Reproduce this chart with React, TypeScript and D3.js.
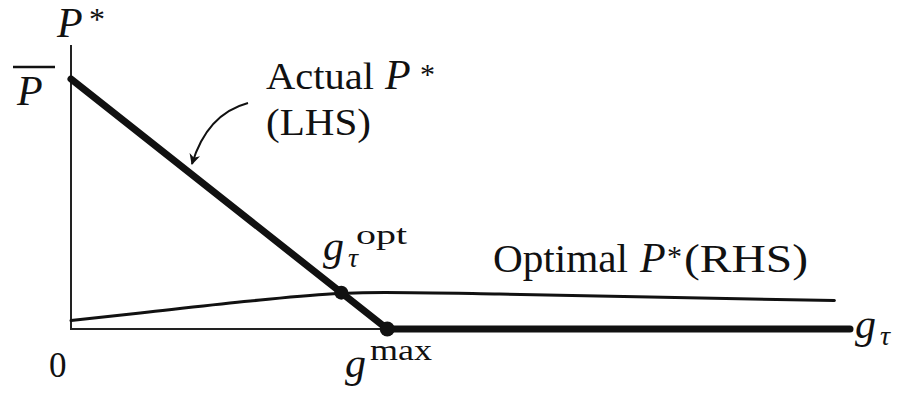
import React from 'react';
import * as d3 from 'd3';

// schematic: actual P* (LHS) falls linearly to zero at g^max, optimal P* (RHS) stays low
const pBar = 1;
const gMax = 40.6;
const gEnd = 100;

const actualG = [0, gMax, gEnd];
const actualP = [pBar, 0, 0];

const optimalG = [0, 10, 23, 34.5, 40.3, 55, 74.3, 98];
const optimalP = [0.034, 0.068, 0.112, 0.142, 0.146, 0.14, 0.128, 0.114];

const gOpt = 34.7;

const W = 905;
const H = 396;
const FONT = 'Liberation Serif';

const App = () => {
  const x = d3.scaleLinear().domain([0, 100]).range([71, 850]);
  const y = d3.scaleLinear().domain([0, 1]).range([329, 79]);

  const line = d3.line<[number, number]>()
    .x(d => x(d[0]))
    .y(d => y(d[1]));
  const smooth = d3.line<[number, number]>()
    .x(d => x(d[0]))
    .y(d => y(d[1]))
    .curve(d3.curveMonotoneX);

  const actual = actualG.map((g, i) => [g, actualP[i]] as [number, number]);
  const optimal = optimalG.map((g, i) => [g, optimalP[i]] as [number, number]);
  const pOpt = pBar * (1 - gOpt / gMax);

  return (
    <svg width={W} height={H} style={{ position: 'absolute', left: 0, top: 0 }}>
      <defs>
        <marker id="ah" viewBox="0 0 10 10" refX="9" refY="5" markerWidth="11" markerHeight="11" orient="auto" markerUnits="userSpaceOnUse">
          <path d="M0,0 L10,5 L0,10 L3,5 Z" fill="#111" />
        </marker>
      </defs>
      <rect width={W} height={H} fill="#fff" />
      {/* axes */}
      <path d={`M${x(0)},${y(1.136)} V${y(0)} H${x(gEnd)}`} fill="none" stroke="#222" strokeWidth={2} />
      {/* optimal curve */}
      <path d={smooth(optimal) ?? ''} fill="none" stroke="#111" strokeWidth={3} strokeLinecap="round" />
      {/* actual curve */}
      <path d={line(actual) ?? ''} fill="none" stroke="#111" strokeWidth={7} strokeLinecap="round" strokeLinejoin="round" />
      <circle cx={x(gOpt)} cy={y(pOpt)} r={7} fill="#111" />
      <circle cx={x(gMax)} cy={y(0)} r={7.5} fill="#111" />
      {/* arrow */}
      <path d="M248,103 Q207,114 192,164" fill="none" stroke="#111" strokeWidth={2} markerEnd="url(#ah)" />

      <g fontFamily={FONT} fill="#111">
        <text x={57} y={37} fontSize={42} fontStyle="italic">P</text>
        <text x={89} y={30} fontSize={32}>*</text>

        <line x1={13} x2={55} y1={67} y2={67} stroke="#111" strokeWidth={2.5} />
        <text x={17} y={105} fontSize={42} fontStyle="italic">P</text>

        <text x={266} y={89} fontSize={38} textLength={108} lengthAdjust="spacingAndGlyphs">Actual</text>
        <text x={385} y={89} fontSize={42} fontStyle="italic">P</text>
        <text x={420} y={84} fontSize={30}>*</text>
        <text x={266} y={135} fontSize={38} textLength={105} lengthAdjust="spacingAndGlyphs">(LHS)</text>

        <text x={323} y={260} fontSize={42} fontStyle="italic">g</text>
        <text x={348} y={267} fontSize={28} fontStyle="italic">τ</text>
        <text x={356} y={244} fontSize={28} textLength={51} lengthAdjust="spacingAndGlyphs">opt</text>

        <text x={493} y={272} fontSize={40} textLength={135} lengthAdjust="spacingAndGlyphs">Optimal</text>
        <text x={640} y={272} fontSize={42} fontStyle="italic">P</text>
        <text x={667} y={266} fontSize={30}>*</text>
        <text x={684} y={272} fontSize={40} textLength={124} lengthAdjust="spacingAndGlyphs">(RHS)</text>

        <text x={855} y={338} fontSize={42} fontStyle="italic">g</text>
        <text x={880} y={345} fontSize={28} fontStyle="italic">τ</text>

        <text x={49} y={377} fontSize={35}>0</text>

        <text x={345} y={377} fontSize={42} fontStyle="italic">g</text>
        <text x={370} y={360} fontSize={30} textLength={62} lengthAdjust="spacingAndGlyphs">max</text>
      </g>
    </svg>
  );
};

export default App;
